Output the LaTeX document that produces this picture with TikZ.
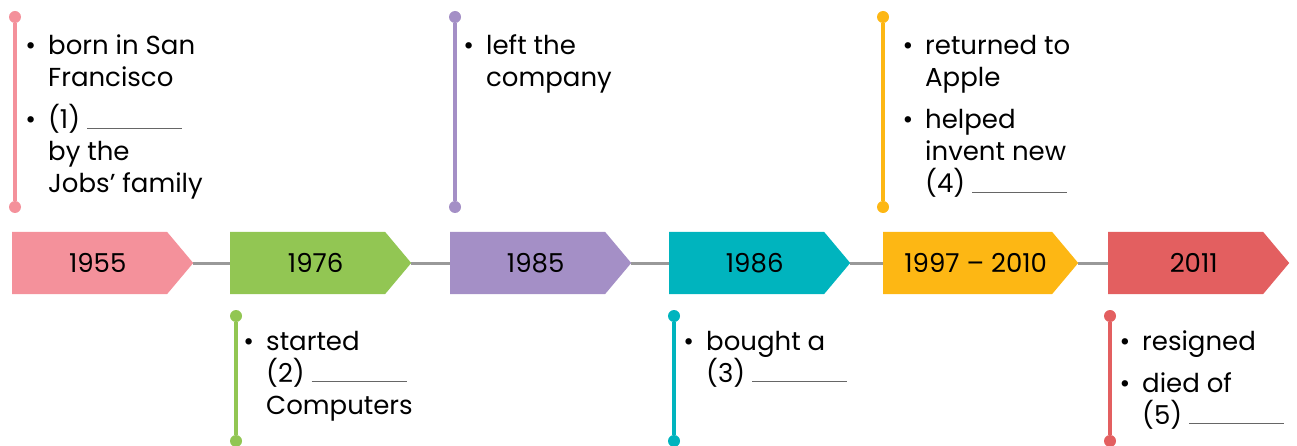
\documentclass[tikz,border=0pt]{standalone}
\usepackage{fontspec}
\setmainfont{Poppins}
\usetikzlibrary{shapes.symbols}

\definecolor{cpink}{HTML}{F4919B}
\definecolor{cgreen}{HTML}{92C653}
\definecolor{cpurple}{HTML}{A48FC6}
\definecolor{cteal}{HTML}{00B4BE}
\definecolor{cyellow}{HTML}{FDB714}
\definecolor{cred}{HTML}{E35F60}
\definecolor{cline}{HTML}{999999}

\newcommand{\bul}{\llap{\textbullet\hspace{12pt}}}
\newcommand{\blank}{\textcolor{black!60}{\rule{95pt}{0.9pt}}}

\begin{document}
\begin{tikzpicture}[x=1pt,y=-1pt,
	year/.style={shape=signal, signal to=east, signal pointer angle=100, anchor=west,
		minimum width=181pt, minimum height=62pt, inner sep=0pt,
		font=\fontsize{26}{26}\selectfont},
	stem/.style={line width=3.5pt},
	dot/.style={shape=circle, fill, inner sep=0pt, minimum size=12pt},
	info/.style={anchor=base west, inner sep=0pt, align=left,
		font=\fontsize{26}{32}\selectfont}]
	
	\useasboundingbox (0,0) rectangle (1297,446);
	
	% the years
	\node[year, fill=cpink] (y1955) at (12,263) {\hspace{16pt}1955};
	\node[year, fill=cgreen] (y1976) at (230,263) {\hspace{16pt}1976};
	\node[year, fill=cpurple] (y1985) at (450,263) {\hspace{16pt}1985};
	\node[year, fill=cteal] (y1986) at (669,263) {\hspace{16pt}1986};
	\node[year, fill=cyellow, minimum width=195pt] (y1997) at (883,263) {\hspace{16pt}1997 -- 2010};
	\node[year, fill=cred] (y2011) at (1108,263) {\hspace{16pt}2011};
	
	\path [draw=cline, line width=3pt] (y1955.east) -- (y1976.west);
	\path [draw=cline, line width=3pt] (y1976.east) -- (y1985.west);
	\path [draw=cline, line width=3pt] (y1985.east) -- (y1986.west);
	\path [draw=cline, line width=3pt] (y1986.east) -- (y1997.west);
	\path [draw=cline, line width=3pt] (y1997.east) -- (y2011.west);
	
	% stems above
	\node[dot, cpink] (p1) at (15,17) {};
	\node[dot, cpink] (q1) at (15,207) {};
	\draw[stem, cpink] (p1) -- (q1);
	\node[dot, cpurple] (p3) at (455,17) {};
	\node[dot, cpurple] (q3) at (455,207) {};
	\draw[stem, cpurple] (p3) -- (q3);
	\node[dot, cyellow] (p5) at (883,17) {};
	\node[dot, cyellow] (q5) at (883,207) {};
	\draw[stem, cyellow] (p5) -- (q5);
	
	% stems below
	\node[dot, cgreen] (p2) at (236,316) {};
	\node[dot, cgreen] (q2) at (236,441) {};
	\draw[stem, cgreen] (p2) -- (q2);
	\node[dot, cteal] (p4) at (674,316) {};
	\node[dot, cteal] (q4) at (674,441) {};
	\draw[stem, cteal] (p4) -- (q4);
	\node[dot, cred] (p6) at (1110,316) {};
	\node[dot, cred] (q6) at (1110,441) {};
	\draw[stem, cred] (p6) -- (q6);
	
	% the notes (placed at the baseline of their last line)
	\node[info] (n1955) at (48,193) {\bul born in San\\ Francisco\\[10pt] \bul (1) \blank\\ by the\\ Jobs’ family};
	\node[info] (n1976) at (266,414) {\bul started\\ (2) \blank\\ Computers};
	\node[info] (n1985) at (486,87) {\bul left the\\ company};
	\node[info] (n1986) at (706,382) {\bul bought a\\ (3) \blank};
	\node[info] (n1997) at (925,193) {\bul returned to\\ Apple\\[10pt] \bul helped\\ invent new\\ (4) \blank};
	\node[info] (n2011) at (1142,424) {\bul resigned\\[10pt] \bul died of\\ (5) \blank};
\end{tikzpicture}
\end{document}
